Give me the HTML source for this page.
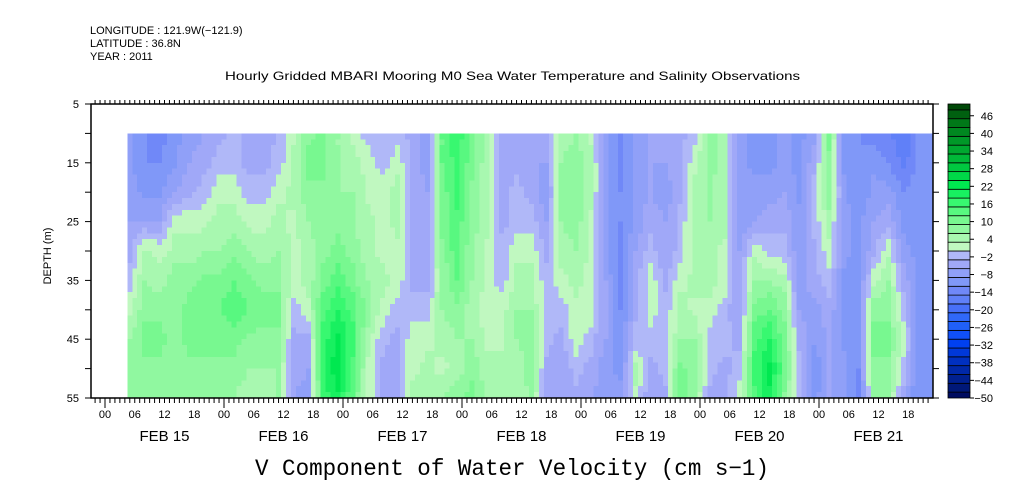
<!DOCTYPE html>
<html><head><meta charset="utf-8"><style>
body{margin:0;background:#fff;}
svg{display:block;font-family:"Liberation Sans",sans-serif;}
</style></head><body>
<svg id="chart" width="1009" height="504" viewBox="0 0 1009 504">
<text x="90" y="34" font-size="11">LONGITUDE : 121.9W(−121.9)</text>
<text x="90" y="47" font-size="11">LATITUDE : 36.8N</text>
<text x="90" y="60" font-size="11">YEAR : 2011</text>
<text x="225" y="80" font-size="12" textLength="575" lengthAdjust="spacingAndGlyphs">Hourly Gridded MBARI Mooring M0 Sea Water Temperature and Salinity Observations</text>
<text x="512" y="475" font-size="23" text-anchor="middle" font-family="Liberation Mono, monospace" textLength="514" lengthAdjust="spacingAndGlyphs">V Component of Water Velocity (cm s−1)</text>
<text transform="translate(51,256) rotate(-90)" font-size="11" text-anchor="middle">DEPTH (m)</text>
<g id="cells" shape-rendering="crispEdges"></g>
<g id="axes"></g>
<g id="cbar"></g>
</svg>
<script>
// time in hours since FEB 15 00:00, one column every 3 hours
const times = [];
for (let t = 5; t <= 167; t += 3) times.push(t);
const depths = [10,15,20,25,30,35,40,45,50,55];
const values = [
[-8,-8,-8,-6,-4,-2,2,6,6,6],
[-12,-12,-10,-6,4,6,8,10,8,6],
[-14,-12,-10,-6,2,4,8,10,8,6],
[-10,-10,-6,2,4,8,8,8,6,6],
[-8,-6,-4,2,4,8,10,10,8,6],
[-6,-4,-2,2,6,10,12,10,8,8],
[-4,-2,2,4,6,10,12,10,8,6],
[-2,-2,2,4,8,12,14,10,8,6],
[-4,-4,-2,2,6,10,12,8,6,4],
[-6,-4,-2,2,4,8,10,8,6,4],
[-2,-2,2,4,6,8,10,8,6,6],
[2,4,4,2,2,2,-2,-4,-4,-6],
[8,10,8,6,4,4,2,-4,-6,-8],
[10,10,8,8,8,10,14,16,18,16],
[6,6,6,8,10,14,18,22,24,20],
[2,4,6,6,8,10,14,16,14,12],
[-2,2,2,4,4,6,8,4,2,2],
[-2,-2,2,2,2,4,2,-2,-4,-4],
[-2,2,4,4,2,2,-2,-4,-4,-4],
[-4,-4,-4,-4,-4,-4,-2,2,2,4],
[-8,-8,-6,-6,-6,-4,-2,2,4,6],
[12,12,10,10,8,6,6,4,2,6],
[18,16,16,14,14,12,8,6,4,8],
[10,10,8,8,6,6,4,6,8,10],
[6,4,4,4,2,2,2,2,4,6],
[-4,-4,-4,-4,-2,-2,2,2,4,4],
[-4,-4,-2,-2,2,4,6,6,4,4],
[-4,-6,-4,-2,2,4,6,8,8,6],
[-6,-6,-8,-6,-4,-2,-2,-2,-4,-4],
[4,6,6,6,4,2,-2,-4,-6,-6],
[6,8,8,8,6,4,2,2,-2,-4],
[2,4,4,2,2,2,2,-2,-4,-6],
[-8,-8,-8,-8,-8,-6,-6,-6,-8,-8],
[-14,-14,-12,-12,-14,-14,-12,-12,-10,-8],
[-8,-8,-8,-8,-6,-4,-4,-2,4,2],
[-6,-6,-6,-4,-2,2,2,-2,-4,-6],
[-6,-6,-8,-6,-6,-4,-2,-2,-2,-4],
[-4,-4,-4,-2,-2,2,4,6,10,12],
[-2,2,4,4,4,4,2,6,8,6],
[8,8,6,6,4,4,2,-2,-2,-4],
[4,4,4,4,2,2,-2,-2,-4,-4],
[-8,-8,-8,-8,-6,-6,-6,-4,-2,2],
[-10,-10,-8,-6,2,6,10,14,16,14],
[-10,-10,-8,-4,-2,6,12,18,22,20],
[-8,-8,-6,-4,-2,4,8,10,12,8],
[-10,-10,-10,-8,-8,-8,-6,-4,-2,-2],
[-8,-4,-2,-2,-4,-4,-8,-8,-12,-10],
[10,8,8,4,2,-2,-4,-6,-6,-6],
[-10,-10,-8,-8,-8,-10,-10,-10,-8,-8],
[-12,-12,-12,-10,-10,-10,-10,-12,-12,-14],
[-14,-10,-8,-6,-4,2,8,10,8,6],
[-14,-12,-8,-4,2,6,8,10,8,6],
[-18,-16,-12,-10,-8,-4,-2,2,-2,-4],
[-12,-12,-10,-10,-10,-10,-10,-10,-12,-12],
[-10,-10,-10,-10,-10,-10,-12,-12,-12,-12]
];
const depthTicks = [5,15,25,35,45,55];
const hourLabels = ["00","06","12","18"];
const dayLabels = ["FEB 15","FEB 16","FEB 17","FEB 18","FEB 19","FEB 20","FEB 21"];
const cbarLabels = [46,40,34,28,22,16,10,4,-2,-8,-14,-20,-26,-32,-38,-44,-50];

const NS = "http://www.w3.org/2000/svg";
const X0 = 91, X1 = 933, Y0 = 104, Y1 = 398;
const xs = t => 105 + t * (119 / 24);
const ys = d => Y0 + (d - 5) * (Y1 - Y0) / 50;
const pos = ["#c0f8c0","#a8f8b0","#90f8a0","#78f890","#58f880","#38f870","#18f060","#00e850","#00d848","#00c840","#00b838","#00a830","#009828","#008820","#007818","#006010","#004808"];
const neg = ["#b0b8f8","#a0a8f8","#90a0f8","#8098f8","#7088f8","#6080f8","#4870f8","#3068f8","#2060f8","#1050f8","#0040f0","#0038d8","#0030c0","#0028a8","#002090","#001878","#000c60"];
function color(v){
  if (v >= 0) return pos[Math.max(0, Math.min(16, Math.floor(v / 3)))];
  return neg[Math.max(0, Math.min(16, Math.floor(-v / 3 - 1e-9)))];
}
function mk(tag, attrs, parent){
  const e = document.createElementNS(NS, tag);
  for (const k in attrs) e.setAttribute(k, attrs[k]);
  parent.appendChild(e); return e;
}
// display-time bilinear shading between the sampled grid points
function sample(t, d){
  let i = (t - times[0]) / 3; i = Math.max(0, Math.min(times.length - 1, i));
  let j = (d - depths[0]) / 5; j = Math.max(0, Math.min(depths.length - 1, j));
  const i0 = Math.floor(i), i1 = Math.min(times.length - 1, i0 + 1), fi = i - i0;
  const j0 = Math.floor(j), j1 = Math.min(depths.length - 1, j0 + 1), fj = j - j0;
  const a = values[i0][j0] * (1 - fj) + values[i0][j1] * fj;
  const b = values[i1][j0] * (1 - fj) + values[i1][j1] * fj;
  return a * (1 - fi) + b * fi;
}
const cells = document.getElementById("cells");
const tStart = times[0] - 0.5, tEnd = times[times.length - 1] + 1;
for (let t = tStart; t < tEnd; t += 1) {
  const xa = Math.max(X0, xs(t)), xb = Math.min(X1, xs(t + 1));
  if (xb <= xa) continue;
  for (let d = 10; d < 55; d += 1) {
    const v = sample(t + 0.5, d + 0.5);
    const r = mk("rect", {x: xa, y: ys(d), width: xb - xa + 0.5, height: ys(d + 1) - ys(d) + 0.5, fill: color(v)}, cells);
    
    
  }
}
const ax = document.getElementById("axes");
const fr = mk("rect", {x: X0, y: Y0, width: X1 - X0, height: Y1 - Y0, fill: "none", stroke: "#000", "stroke-width": 1.5}, ax);


for (let h = -13; h <= 200; h++) {
  const x = xs(h);
  if (x < X0 || x > X1) continue;
  const big = h % 24 === 0;
  mk("line", {x1: x, x2: x, y1: Y1, y2: Y1 + (big ? 10 : 5), stroke: "#000"}, ax);
  mk("line", {x1: x, x2: x, y1: Y0, y2: Y0 - 4, stroke: "#000"}, ax);
}
for (let d = 5; d <= 55; d += 5) {
  mk("line", {x1: X0, x2: X0 - 6, y1: ys(d), y2: ys(d), stroke: "#000"}, ax);
  mk("line", {x1: X1, x2: X1 + 6, y1: ys(d), y2: ys(d), stroke: "#000"}, ax);
}
depthTicks.forEach(d => {
  const t = mk("text", {x: 79, y: ys(d) + 4, "font-size": 11, "text-anchor": "end"}, ax);
  t.textContent = d;
  
  
});
dayLabels.forEach((lab, di) => {
  hourLabels.forEach((hl, hi) => {
    const t = mk("text", {x: xs(di * 24 + hi * 6), y: 418, "font-size": 11, "text-anchor": "middle"}, ax);
    t.textContent = hl;
    
    
  });
  const t = mk("text", {x: xs(di * 24 + 12), y: 441, "font-size": 15, "text-anchor": "middle"}, ax);
  t.textContent = lab;
  
  
});
const cb = document.getElementById("cbar");
const cy = v => 104 + (50 - v) * 2.94;
for (let v = -51; v < 51; v += 3) {
  const top = Math.max(104, cy(v + 3)), bot = Math.min(398, cy(v));
  const r = mk("rect", {x: 948, y: top, width: 22, height: bot - top, fill: color(v + 1.5), stroke: "#000", "stroke-width": 0.8}, cb);
  
  
}
cbarLabels.forEach(v => {
  mk("line", {x1: 970, x2: 974, y1: cy(v), y2: cy(v), stroke: "#000"}, cb);
  const t = mk("text", {x: 993, y: cy(v) + 4, "font-size": 11, "text-anchor": "end"}, cb);
  t.textContent = v < 0 ? "−" + (-v) : String(v);
  
  
});
</script>
</body></html>
